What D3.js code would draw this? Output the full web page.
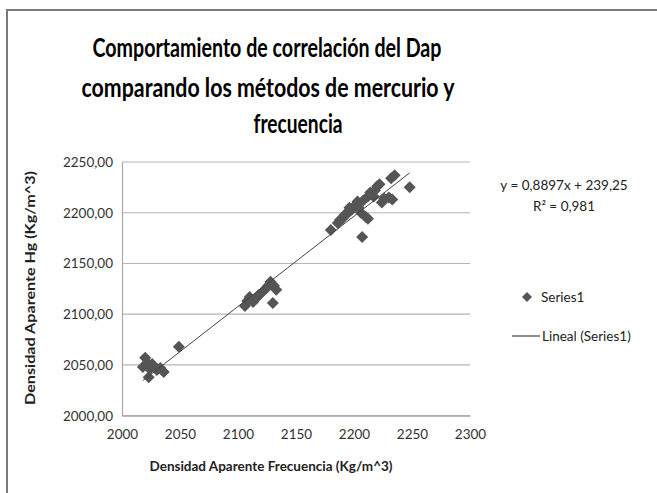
<!DOCTYPE html>
<html><head><meta charset="utf-8">
<script src="https://cdn.jsdelivr.net/npm/d3@7/dist/d3.min.js"></script>
<style>body{margin:0;background:#fff}svg{display:block}</style>
</head><body>
<svg id="c" width="657" height="493"></svg>
<script>
const titleLines = ["Comportamiento de correlación del Dap","comparando los métodos de mercurio y","frecuencia"];
const xTitle = "Densidad Aparente Frecuencia (Kg/m^3)";
const yTitle = "Densidad Aparente Hg (Kg/m^3)";
const xTicks = [2000,2050,2100,2150,2200,2250,2300];
const yTicks = [2000,2050,2100,2150,2200,2250];
const xValues = [2018,2020,2022,2023,2024,2026,2028,2030,2033,2036,2049,
  2106,2108,2110,2113,2116,2118,2121,2124,2126,2128,2131,2133,2130,
  2180,2186,2188,2190,2192,2195,2196,2198,2200,2202,2203,2204,2207,2206,2208,2210,2212,2212,2214,2215,2217,2218,2220,2222,2224,2226,2230,2233,2235,2232,2248];
const yValues = [2048,2057,2052,2038,2046,2051,2048,2045,2047,2043,2068,
  2108,2113,2117,2112,2116,2119,2122,2125,2128,2132,2128,2124,2111,
  2183,2190,2193,2194,2198,2200,2205,2203,2206,2208,2211,2205,2176,2200,2212,2196,2194,2216,2220,2218,2216,2222,2226,2228,2210,2214,2215,2213,2237,2234,2225];
const slope = 0.8897, intercept = 239.25;
const eqLabels = ["y = 0,8897x + 239,25","R² = 0,981"];
const legendLabels = ["Series1","Lineal (Series1)"];

const svg = d3.select("#c");
const font = "Lato, 'Open Sans', sans-serif";
const x = d3.scaleLinear().domain([2000,2300]).range([122,470]);
const y = d3.scaleLinear().domain([2000,2250]).range([415.7,162]);

// chart border
svg.append("rect").attr("x",7).attr("y",10).attr("width",700).attr("height",520)
  .attr("fill","none").attr("stroke","#7a7a7a").attr("stroke-width",2);

// title
const tPos = [{cx:267,y:57,w:349},{cx:268,y:97,w:373},{cx:298,y:133,w:89}];
titleLines.forEach((t,i)=>{
  svg.append("text").attr("x",tPos[i].cx).attr("y",tPos[i].y).attr("text-anchor","middle")
    .attr("font-family",font).attr("font-weight","bold").attr("font-size",26)
    .attr("textLength",tPos[i].w).attr("lengthAdjust","spacingAndGlyphs")
    .attr("fill","#000").text(t);
});

// gridlines
svg.append("g").selectAll("line").data(yTicks).join("line")
  .attr("x1",x(2000)).attr("x2",x(2300)).attr("y1",d=>y(d)).attr("y2",d=>y(d))
  .attr("stroke","#b5b5b5").attr("stroke-width",1.2);

// axes
const fmtY = d=>d3.format(".2f")(d).replace(".",",");
const yAxis = svg.append("g").attr("transform",`translate(${x(2000)},0)`)
  .call(d3.axisLeft(y).tickValues(yTicks).tickFormat(fmtY).tickSize(0).tickPadding(9));
yAxis.select(".domain").attr("stroke","#a8a8a8").attr("stroke-width",1.2);
yAxis.selectAll("text").attr("font-family",font).attr("font-size",13.5).attr("fill","#333");
const xAxis = svg.append("g").attr("transform",`translate(0,${y(2000)})`)
  .call(d3.axisBottom(x).tickValues(xTicks).tickFormat(d3.format("d")).tickSize(0).tickPadding(14));
xAxis.select(".domain").attr("stroke","#a8a8a8").attr("stroke-width",1.2);
xAxis.selectAll("text").attr("font-family",font).attr("font-size",13.5).attr("fill","#333");

// axis titles
svg.append("text").attr("x",271).attr("y",471).attr("text-anchor","middle")
  .attr("font-family",font).attr("font-weight","bold").attr("font-size",13.5)
  .attr("textLength",243).attr("lengthAdjust","spacingAndGlyphs").attr("fill","#222").text(xTitle);
svg.append("text").attr("transform","translate(35,288) rotate(-90)").attr("text-anchor","middle")
  .attr("font-family",font).attr("font-weight","bold").attr("font-size",13.5)
  .attr("textLength",234).attr("lengthAdjust","spacingAndGlyphs").attr("fill","#222").text(yTitle);

// points
const diamond = "M0,-6L6,0L0,6L-6,0Z";
const pts = xValues.map((v,i)=>({x:v,y:yValues[i]}));
svg.append("g").selectAll("path").data(pts).join("path")
  .attr("d",diamond).attr("transform",d=>`translate(${x(d.x)},${y(d.y)})`)
  .attr("fill","#555");

// trendline
const xMin = d3.min(xValues), xMax = d3.max(xValues);
svg.append("line").attr("x1",x(xMin)).attr("y1",y(slope*xMin+intercept))
  .attr("x2",x(xMax)).attr("y2",y(slope*xMax+intercept))
  .attr("stroke","#444").attr("stroke-width",1);

// equation
svg.append("text").attr("x",564).attr("y",190).attr("text-anchor","middle")
  .attr("font-family",font).attr("font-size",13.5).attr("fill","#222").text(eqLabels[0]);
svg.append("text").attr("x",564).attr("y",211).attr("text-anchor","middle")
  .attr("font-family",font).attr("font-size",13.5).attr("fill","#222").text(eqLabels[1]);

// legend
svg.append("path").attr("d","M0,-5L5,0L0,5L-5,0Z").attr("transform","translate(527,297)").attr("fill","#555");
svg.append("text").attr("x",541).attr("y",302).attr("font-family",font).attr("font-size",13.5)
  .attr("fill","#222").text(legendLabels[0]);
svg.append("line").attr("x1",512).attr("x2",540).attr("y1",336).attr("y2",336)
  .attr("stroke","#444").attr("stroke-width",1.2);
svg.append("text").attr("x",542).attr("y",341).attr("font-family",font).attr("font-size",13.5)
  .attr("fill","#222").text(legendLabels[1]);
</script>
</body></html>
